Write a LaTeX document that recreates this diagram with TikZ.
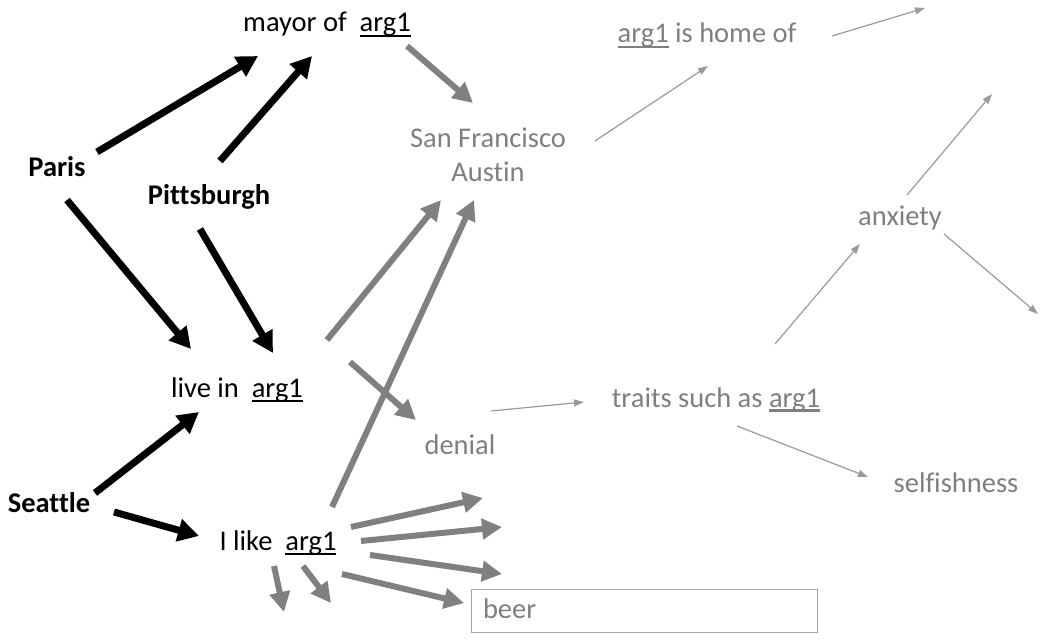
\documentclass[tikz,border=0pt]{standalone}
\usepackage{fontspec}
\setmainfont{Carlito}[Ligatures=NoCommon]
\usetikzlibrary{arrows.meta}
\definecolor{txtgray}{HTML}{7F7F7F}
\definecolor{arrgray}{HTML}{808080}
\definecolor{thingray}{HTML}{9A9A9A}
\definecolor{boxgray}{HTML}{A6A6A6}
\newcommand\argul[2][2pt]{\setbox0\hbox{#2}\rlap{\rule[-5pt]{\wd0}{#1}}\box0\relax}
\tikzset{
  lbl/.style={inner sep=0pt, outer sep=0pt, anchor=base, font=\fontsize{28.5}{34}\selectfont},
  blbl/.style={lbl, font=\fontsize{28.5}{34}\selectfont\bfseries},
  glbl/.style={lbl, text=txtgray},
  blkarrow/.style={draw=black, line width=7pt, -{Triangle[length=21pt,width=22pt]}},
  grayarrow/.style={draw=arrgray, line width=6pt, -{Triangle[length=20pt,width=20pt]}},
  thinarrow/.style={draw=thingray, line width=1.2pt, -{Triangle[length=10pt,width=7pt]}},
}
\begin{document}
\begin{tikzpicture}[x=1pt,y=-1pt]
\useasboundingbox (0,0) rectangle (1061,642);
% nodes
\node[lbl] (mayor) at (327,32) {mayor of\ \ \argul{arg1}};
\node[blbl] (paris) at (57,176) {Paris};
\node[blbl] (pitt) at (209,204) {Pittsburgh};
\node[glbl, align=center] (sf) at (488,181) {San Francisco\\Austin};
\node[glbl] (home) at (707,43) {\argul{arg1} is home of};
\node[glbl] (anx) at (900,225) {anxiety};
\node[lbl] (live) at (237,397) {live in\ \ \argul{arg1}};
\node[glbl] (denial) at (460,454) {denial};
\node[glbl] (traits) at (716,407) {traits such as \argul[3pt]{arg1}};
\node[glbl] (self) at (956,492) {selfishness};
\node[blbl] (seattle) at (49,512) {Seattle};
\node[lbl] (ilike) at (278,550) {I like\ \ \argul{arg1}};
\node[draw=boxgray, line width=1.2pt, minimum width=346pt, minimum height=43pt, inner sep=0pt, anchor=north west] (beer) at (471,589) {};
\node[lbl, text=txtgray, anchor=base west] (beertxt) at (483,618) {beer};
% free ends
\coordinate (f1) at (483,498);
\coordinate (f2) at (502,527);
\coordinate (f3) at (502,574);
\coordinate (f4) at (284,612);
\coordinate (f5) at (331,603);
\coordinate (f6) at (925,8);
\coordinate (f7) at (992,94);
\coordinate (f8) at (1038,314);
% black arrows
\draw[blkarrow] ([shift={(40,-24)}]paris.base) -- ([shift={(-69,24)}]mayor.base);
\draw[blkarrow] ([shift={(11,-43)}]pitt.base) -- ([shift={(-15,24)}]mayor.base);
\draw[blkarrow] ([shift={(10,24)}]paris.base) -- ([shift={(-46,-48)}]live.base);
\draw[blkarrow] ([shift={(-9,25)}]pitt.base) -- ([shift={(36,-44)}]live.base);
\draw[blkarrow] ([shift={(46,-19)}]seattle.base) -- ([shift={(-38,15)}]live.base);
\draw[blkarrow] ([shift={(65,0)}]seattle.base) -- ([shift={(-79,-14)}]ilike.base);
% gray thick arrows
\draw[grayarrow] ([shift={(80,14)}]mayor.base) -- ([shift={(-15,-78)}]sf.base);
\draw[grayarrow] ([shift={(90,-57)}]live.base) -- ([shift={(-47,19)}]sf.base);
\draw[grayarrow] ([shift={(54,-43)}]ilike.base) -- ([shift={(-14,19)}]sf.base);
\draw[grayarrow] ([shift={(113,-35)}]live.base) -- ([shift={(-44,-34)}]denial.base);
\draw[grayarrow] ([shift={(73,-23)}]ilike.base) -- (f1);
\draw[grayarrow] ([shift={(83,-9)}]ilike.base) -- (f2);
\draw[grayarrow] ([shift={(92,5)}]ilike.base) -- (f3);
\draw[grayarrow] ([shift={(64,24)}]ilike.base) -- ([shift={(-7,-8)}]beer.west);
\draw[grayarrow] ([shift={(-4,16)}]ilike.base) -- (f4);
\draw[grayarrow] ([shift={(25,16)}]ilike.base) -- (f5);
% thin arrows
\draw[thinarrow] ([shift={(107,-40)}]sf.base) -- ([shift={(1,23)}]home.base);
\draw[thinarrow] ([shift={(125,-7)}]home.base) -- (f6);
\draw[thinarrow] ([shift={(7,-30)}]anx.base) -- (f7);
\draw[thinarrow] ([shift={(44,9)}]anx.base) -- (f8);
\draw[thinarrow] ([shift={(59,-63)}]traits.base) -- ([shift={(-40,19)}]anx.base);
\draw[thinarrow] ([shift={(31,-43)}]denial.base) -- ([shift={(-132,-5)}]traits.base);
\draw[thinarrow] ([shift={(21,19)}]traits.base) -- ([shift={(-88,-15)}]self.base);
\end{tikzpicture}
\end{document}
